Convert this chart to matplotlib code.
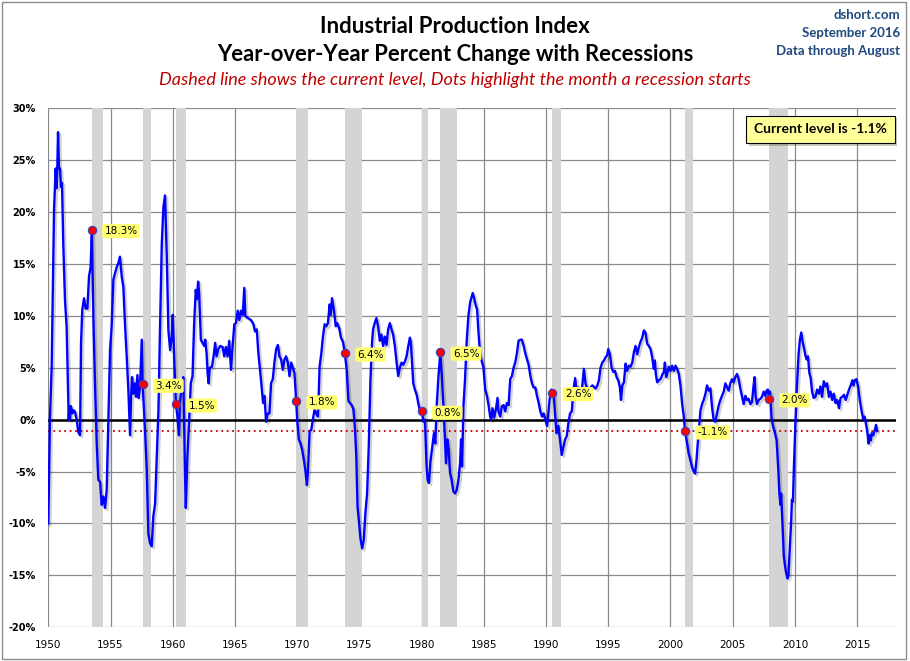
"""
plot.py - Industrial Production Index, YoY % change with recessions
"""
import numpy as np
import matplotlib; matplotlib.use('Agg')
import matplotlib.pyplot as plt
import matplotlib.patheffects as pe
from matplotlib.patches import Rectangle
from matplotlib.ticker import FuncFormatter, MultipleLocator

# ---- data (decimal year, yoy %) ---------------------------------------
t50 = [1950.00,1950.13,1950.27,1950.46,1950.59,1950.67,1950.72,1950.78,1950.86,1950.94,
       1951.02,1951.10,1951.20,1951.34,1951.47,1951.64,1951.69,1951.74,1951.82,1951.93,
       1952.01,1952.14,1952.28,1952.41,1952.55,1952.63,1952.73,1952.87,1953.00,1953.14,
       1953.27,1953.40,1953.50,1953.62,1953.75,1953.89,1954.02,1954.16,1954.29,1954.42,
       1954.56,1954.69,1954.83,1954.96,1955.09,1955.23,1955.36,1955.50,1955.63,1955.76,
       1955.90,1956.03,1956.17,1956.30,1956.43,1956.57,1956.65,1956.73,1956.84,1956.94,
       1957.05,1957.16,1957.26,1957.37,1957.51,1957.58,1957.77,1957.91,1958.04,1958.18,
       1958.31,1958.44,1958.58,1958.71,1958.85,1958.98,1959.12,1959.25,1959.38,1959.52,
       1959.65,1959.79,1959.92]
v50 = [-10.0,0.0,5.1,20.2,24.2,22.3,24.2,27.7,24.2,24.2,
       22.4,22.8,17.0,11.5,9.0,0.0,1.3,0.0,1.3,0.6,
       0.9,0.8,0.0,-1.2,-1.5,7.4,10.6,11.7,10.7,10.7,
       13.8,14.7,18.3,9.9,3.5,-2.3,-5.8,-6.0,-8.2,-7.4,
       -8.5,-6.8,0.0,6.7,9.0,13.5,14.1,14.7,15.1,15.7,
       13.8,12.8,9.0,6.1,2.9,-1.5,2.2,4.1,2.5,3.5,
       2.2,4.3,2.1,3.2,7.7,3.4,-1.0,-4.8,-11.0,-11.9,
       -12.2,-9.3,-8.1,-3.9,0.9,9.0,17.0,20.5,21.6,15.7,
       8.6,6.7,8.0]

t60 = [1960.00,1960.13,1960.25,1960.38,1960.50,1960.58,1960.72,1960.85,1960.99,1961.05,
       1961.18,1961.32,1961.45,1961.59,1961.72,1961.85,1961.93,1962.04,1962.12,1962.26,
       1962.39,1962.53,1962.61,1962.72,1962.80,1962.88,1962.97,1963.15,1963.28,1963.41,
       1963.52,1963.66,1963.82,1964.01,1964.14,1964.27,1964.41,1964.54,1964.68,1964.81,
       1964.95,1965.08,1965.22,1965.35,1965.48,1965.62,1965.75,1965.83,1966.02,1966.29,
       1966.48,1966.61,1966.75,1966.88,1967.04,1967.18,1967.26,1967.37,1967.50,1967.63,
       1967.77,1967.90,1968.04,1968.17,1968.31,1968.45,1968.58,1968.71,1968.84,1968.98,
       1969.11,1969.25,1969.38,1969.52,1969.65,1969.78,1969.92]
v60 = [10.1,5.7,1.5,0.3,-1.5,1.6,3.2,4.1,-5.5,-8.5,
       -3.5,0.0,3.5,4.2,9.3,12.5,11.6,13.3,12.2,7.7,
       7.4,7.1,7.7,6.4,4.5,3.5,5.0,5.1,6.1,7.4,
       6.1,6.8,7.1,7.0,6.1,7.0,6.1,7.6,4.8,7.1,
       9.2,9.3,10.5,9.6,10.5,10.1,12.7,10.0,9.8,9.6,
       9.2,8.5,8.7,6.4,4.5,2.6,1.6,2.3,-0.2,0.6,
       0.6,3.5,3.9,5.5,6.8,7.2,6.1,5.8,4.8,5.8,
       6.1,5.5,4.2,5.5,5.0,4.5,1.8]

t70 = [1970.00,1970.13,1970.27,1970.40,1970.54,1970.65,1970.78,1970.86,1971.00,1971.13,
       1971.26,1971.40,1971.53,1971.67,1971.80,1971.94,1972.07,1972.21,1972.34,1972.47,
       1972.61,1972.70,1972.80,1972.95,1973.10,1973.22,1973.38,1973.52,1973.68,1973.83,
       1973.98,1974.12,1974.25,1974.38,1974.52,1974.65,1974.75,1974.85,1974.95,1975.08,
       1975.22,1975.35,1975.48,1975.62,1975.75,1975.89,1976.02,1976.10,1976.23,1976.37,
       1976.50,1976.64,1976.77,1976.91,1977.04,1977.18,1977.31,1977.45,1977.58,1977.71,
       1977.85,1977.98,1978.12,1978.25,1978.39,1978.52,1978.66,1978.79,1978.93,1979.06,
       1979.14,1979.25,1979.33,1979.46,1979.60,1979.73,1979.87]
v70 = [0.0,-1.9,-2.3,-2.9,-3.9,-4.8,-6.3,-5.1,-1.1,-1.0,
       0.0,1.0,0.6,0.3,5.1,6.4,8.0,9.2,9.0,9.3,
       11.1,10.1,11.7,10.6,9.0,9.3,8.8,7.9,7.5,6.4,
       4.8,1.8,1.6,1.4,1.0,-1.0,-3.5,-8.4,-9.6,-11.4,
       -12.4,-11.6,-9.0,-7.1,-2.6,3.9,7.5,8.7,9.3,9.8,
       9.0,7.6,8.2,7.1,8.0,7.2,8.7,9.3,8.7,8.2,
       7.1,5.6,4.2,5.0,5.5,5.3,5.6,6.1,7.1,7.9,
       7.4,5.1,3.5,2.9,2.4,1.6,0.8]

t80 = [1980.00,1980.16,1980.27,1980.40,1980.48,1980.59,1980.72,1980.86,1980.99,1981.10,
       1981.21,1981.34,1981.50,1981.61,1981.75,1981.88,1981.96,1982.07,1982.18,1982.28,
       1982.41,1982.55,1982.68,1982.82,1982.96,1983.09,1983.17,1983.25,1983.36,1983.49,
       1983.63,1983.76,1983.90,1984.11,1984.22,1984.33,1984.46,1984.57,1984.70,1984.84,
       1984.97,1985.11,1985.25,1985.38,1985.51,1985.59,1985.70,1985.83,1985.97,1986.10,
       1986.18,1986.32,1986.45,1986.59,1986.72,1986.85,1986.99,1987.12,1987.26,1987.39,
       1987.52,1987.66,1987.79,1987.93,1988.06,1988.20,1988.33,1988.47,1988.60,1988.74,
       1988.87,1989.00,1989.14,1989.27,1989.41,1989.54,1989.68,1989.81,1989.95]
v80 = [0.8,-0.2,0.0,-4.5,-5.8,-6.1,-3.9,-2.6,-1.3,-2.3,
       1.3,3.9,6.5,4.5,1.3,-1.9,-4.2,-1.9,-2.9,-5.1,
       -5.8,-6.9,-7.1,-6.8,-5.8,-4.2,-1.9,-4.5,1.3,3.9,
       7.7,10.0,11.3,12.2,11.7,11.1,10.6,8.4,6.4,5.6,
       5.0,2.9,2.3,1.4,0.3,0.0,1.1,0.2,1.0,2.1,
       0.8,0.3,1.3,1.4,0.8,1.6,1.4,3.9,4.2,5.0,
       5.5,6.4,7.6,7.7,7.7,7.1,6.4,5.8,5.3,4.2,
       3.5,3.1,3.1,2.3,1.6,0.8,0.3,0.6,0.0]

t90 = [1990.08,1990.16,1990.28,1990.42,1990.50,1990.62,1990.72,1990.85,1990.99,1991.12,
       1991.26,1991.39,1991.53,1991.66,1991.80,1991.93,1992.07,1992.20,1992.34,1992.47,
       1992.61,1992.74,1992.90,1993.04,1993.17,1993.31,1993.45,1993.58,1993.72,1993.99,
       1994.12,1994.25,1994.38,1994.52,1994.65,1994.78,1994.91,1995.00,1995.13,1995.27,
       1995.40,1995.54,1995.67,1995.80,1995.94,1996.02,1996.13,1996.26,1996.39,1996.52,
       1996.66,1996.79,1996.93,1997.06,1997.19,1997.33,1997.46,1997.59,1997.73,1997.86,
       1997.99,1998.13,1998.26,1998.40,1998.53,1998.66,1998.74,1998.82,1998.93,1999.06,
       1999.20,1999.33,1999.47,1999.55,1999.65,1999.73,1999.87]
v90 = [-0.6,0.3,1.9,2.9,2.6,2.4,0.6,-1.3,-0.6,-1.9,
       -3.4,-2.7,-1.9,-1.6,-0.3,0.6,0.8,2.9,4.0,2.6,
       3.1,2.6,3.1,4.9,3.5,3.0,3.0,3.1,3.3,3.0,
       3.3,3.8,5.0,5.5,5.7,6.0,6.2,6.8,6.3,5.0,
       4.6,4.7,4.1,3.8,3.1,1.9,3.3,3.6,5.4,4.7,
       5.2,5.1,5.5,6.5,7.1,6.3,7.0,7.5,7.9,8.6,
       8.4,7.3,7.1,6.8,6.0,4.9,5.7,4.4,3.6,3.8,
       3.9,4.3,4.6,5.5,4.1,4.4,5.1]

t00 = [2000.00,2000.13,2000.27,2000.40,2000.53,2000.67,2000.80,2000.94,2001.07,2001.17,
       2001.34,2001.47,2001.60,2001.74,2001.87,2001.98,2002.09,2002.19,2002.30,2002.41,
       2002.54,2002.67,2002.81,2002.94,2003.07,2003.21,2003.34,2003.48,2003.61,2003.74,
       2003.88,2004.01,2004.14,2004.28,2004.41,2004.55,2004.68,2004.81,2004.95,2005.08,
       2005.21,2005.35,2005.48,2005.61,2005.75,2005.88,2006.02,2006.15,2006.28,2006.42,
       2006.55,2006.68,2006.76,2006.84,2006.95,2007.09,2007.22,2007.35,2007.49,2007.62,
       2007.72,2007.83,2007.92,2008.00,2008.13,2008.26,2008.40,2008.53,2008.67,2008.75,
       2008.84,2008.89,2009.00,2009.11,2009.22,2009.30,2009.40,2009.48,2009.59,2009.70,
       2009.76,2009.84,2009.92]
v00 = [4.7,5.2,4.7,5.2,4.9,4.4,3.3,1.5,0.3,-1.1,
       -2.3,-3.3,-3.9,-4.6,-5.0,-5.2,-3.9,-2.3,-0.7,0.9,
       1.5,1.9,2.5,3.3,2.8,3.0,1.2,-0.1,-0.2,0.6,
       1.4,1.9,2.3,2.7,3.5,3.1,2.8,3.5,3.9,3.6,
       4.1,4.4,3.9,3.0,2.2,1.5,2.3,1.9,2.0,1.5,
       1.7,3.3,4.1,2.3,1.5,1.9,2.0,2.2,2.7,2.3,
       2.8,2.9,2.0,2.7,0.0,-0.7,-1.3,-2.0,-4.9,-7.1,
       -8.2,-7.1,-10.0,-13.2,-14.2,-14.8,-15.3,-15.0,-12.3,-9.7,
       -7.7,-7.9,-4.5]

t10 = [2010.03,2010.16,2010.30,2010.40,2010.51,2010.62,2010.73,2010.84,2010.94,2011.05,
       2011.16,2011.27,2011.38,2011.51,2011.65,2011.78,2011.92,2012.05,2012.18,2012.32,
       2012.46,2012.59,2012.73,2012.86,2013.00,2013.13,2013.27,2013.40,2013.54,2013.67,
       2013.81,2013.94,2014.08,2014.21,2014.35,2014.48,2014.62,2014.70,2014.81,2014.94,
       2015.08,2015.21,2015.35,2015.48,2015.59,2015.68,2015.80,2015.92,2016.00,2016.10,
       2016.18,2016.30,2016.42,2016.52,2016.60]
v10 = [-0.7,3.2,6.4,7.7,8.4,7.5,6.9,6.2,5.8,6.1,
       4.5,4.0,2.7,2.1,2.2,2.9,2.5,3.2,2.2,3.7,
       3.2,3.5,2.2,2.7,1.9,2.5,1.6,1.9,1.1,2.1,
       2.2,2.4,1.9,2.4,2.9,3.3,3.8,3.3,3.8,3.9,
       3.2,1.9,0.9,0.1,0.3,-0.2,-1.0,-2.3,-1.5,-2.0,
       -1.3,-1.5,-1.0,-0.5,-1.1]

# NBER recessions (start, end) and the yoy value in the starting month
rec_start = [1953.50,1957.58,1960.25,1969.92,1973.83,1980.00,1981.50,1990.50,2001.17,2007.92]
rec_end   = [1954.37,1958.29,1961.08,1970.83,1975.17,1980.50,1982.83,1991.17,2001.83,2009.42]
rec_val   = [18.3,3.4,1.5,1.8,6.4,0.8,6.5,2.6,-1.1,2.0]
current = -1.1

t = t50+t60+t70+t80+t90+t00+t10
v = v50+v60+v70+v80+v90+v00+v10

BLUE='#0000ff'; RED='#c00000'; GRID='#8a8a8a'; BAND='#d4d4d4'; NAVY='#1f497d'

fig=plt.figure(figsize=(9.1,6.61),dpi=100)
fig.patch.set_facecolor('white')
ax=fig.add_axes([0.0531,0.0510,0.9312,0.7852])

for s,e in zip(rec_start,rec_end):
    ax.axvspan(s,e,color=BAND,lw=0,zorder=1)

ax.axhline(0,color='black',lw=1.8,zorder=2)
ax.axhline(current,color=RED,lw=1.3,ls=(0,(1,2)),zorder=2)

ax.plot(t,v,color=BLUE,lw=1.7,zorder=3,solid_joinstyle='round',
        path_effects=[pe.SimpleLineShadow(offset=(1.5,-1.5),shadow_color='k',alpha=0.18),pe.Normal()])

ax.plot(rec_start,rec_val,'o',ms=6,mfc='red',mec='#4040c0',mew=0.8,zorder=4)
for s,r in zip(rec_start,rec_val):
    ax.annotate(f'{r:.1f}%',(s,r),xytext=(9,-1),textcoords='offset points',
                ha='left',va='center',fontsize=7.5,color='black',zorder=5,
                bbox=dict(boxstyle='round,pad=0.2',fc='#ffff70',ec='none'))

ax.set_xlim(1950,2018.1); ax.set_ylim(-20,30)
ax.xaxis.set_major_locator(MultipleLocator(5))
ax.yaxis.set_major_locator(MultipleLocator(5))
ax.yaxis.set_major_formatter(FuncFormatter(lambda y,_: f'{int(round(y))}%'))
ax.xaxis.set_major_formatter(FuncFormatter(lambda x,_: f'{int(round(x))}'))
ax.grid(color=GRID,lw=0.9,zorder=0); ax.set_axisbelow(True)
for sp in ax.spines.values(): sp.set_visible(False)
ax.tick_params(length=0,labelsize=7.5,pad=9)
ax.tick_params(axis='y',pad=9,labelsize=7)
for l in ax.get_yticklabels(): l.set_fontweight('bold')

cl=ax.text(0.9112,0.9595,f'Current level is {current:.1f}%',transform=ax.transAxes,
           ha='center',va='center',fontsize=10,fontweight='bold',family='Lato',zorder=6,
           bbox=dict(boxstyle='square,pad=0.55',fc='#ffff99',ec='black',lw=0.8))
cl.get_bbox_patch().set_path_effects([pe.withSimplePatchShadow(offset=(2,-2),alpha=0.3)])

fig.text(0.5,0.960,'Industrial Production Index',ha='center',va='center',
         fontsize=16,fontweight='bold',family='Lato')
fig.text(0.5,0.918,'Year-over-Year Percent Change with Recessions',ha='center',va='center',
         fontsize=15.8,fontweight='bold',family='Lato')
fig.text(0.5,0.879,'Dashed line shows the current level, Dots highlight the month a recession starts',
         ha='center',va='center',fontsize=13,style='italic',color=RED,family='Lato')
for y,s in [(0.977,'dshort.com'),(0.950,'September 2016'),(0.923,'Data through August')]:
    fig.text(0.989,y,s,ha='right',va='center',fontsize=9.5,fontweight='bold',color=NAVY,family='Lato')

fig.add_artist(Rectangle((0.002,0.003),0.994,0.994,transform=fig.transFigure,
                         fill=False,ec='#8c8c8c',lw=1))

fig.savefig('out.png',dpi=100,facecolor='white')
